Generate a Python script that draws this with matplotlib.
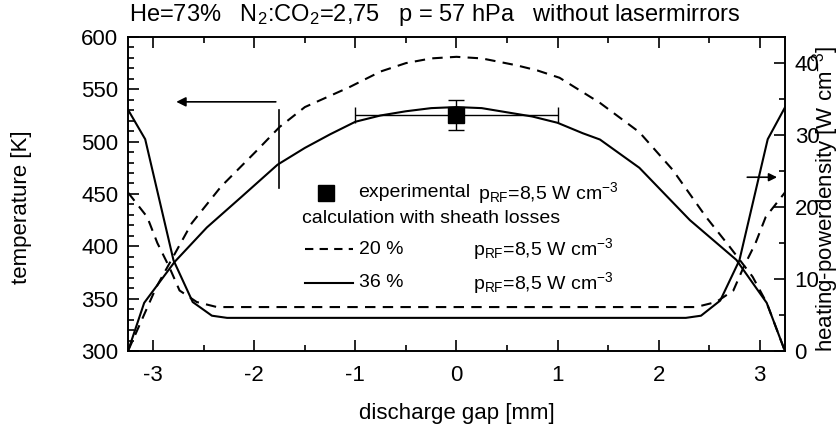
#!/usr/bin/env python3
# temperature and heating power density across the discharge gap

import matplotlib
matplotlib.use('AGG')
import matplotlib.pyplot as plt
from matplotlib.ticker import MultipleLocator

plt.rcParams['font.family'] = ['Liberation Sans', 'DejaVu Sans']
plt.rcParams['mathtext.fontset'] = 'custom'
plt.rcParams['mathtext.rm'] = 'Liberation Sans'
plt.rcParams['mathtext.it'] = 'Liberation Sans:italic'
plt.rcParams['axes.unicode_minus'] = False

# temperature profiles [K]
x_t36 = [-3.25, -3.09, -2.79, -2.47, -2.13, -1.77, -1.5, -1.25, -1.0, -0.75, -0.5,
         -0.25, 0.0, 0.25, 0.5, 0.75, 1.0, 1.25, 1.42, 1.81, 2.31, 2.77, 3.07, 3.25]
t36 = [300, 346, 385, 418, 447, 478, 494, 507, 519, 525, 529,
       532, 533, 532, 528, 524, 518, 508, 502, 475, 425, 387, 346, 300]

x_t20 = [-3.25, -2.97, -2.62, -2.33, -1.97, -1.75, -1.5, -1.06, -0.75, -0.5, -0.25,
         0.0, 0.25, 0.59, 0.8, 1.02, 1.42, 1.81, 2.14, 2.47, 2.70, 2.93, 3.07, 3.25]
t20 = [300, 361, 422, 457, 492, 514, 533, 552, 567, 575, 579.5,
       581, 579.5, 573, 568, 561, 537, 509, 473, 428, 400, 371, 346, 300]

# heating power density [W cm^-3]
x_p36 = [-3.25, -3.08, -2.8, -2.61, -2.42, -2.27, 2.27, 2.42, 2.61, 2.8, 3.08, 3.25]
p36 = [33.5, 29.4, 12.6, 6.8, 4.9, 4.6, 4.6, 4.9, 7.0, 12.6, 29.4, 33.8]

x_p20 = [-3.25, -3.06, -2.96, -2.84, -2.74, -2.57, -2.37,
         2.37, 2.57, 2.74, 2.84, 2.96, 3.06, 3.25]
p20 = [22.0, 18.6, 15.0, 11.6, 8.4, 6.8, 6.1,
       6.1, 6.8, 8.4, 11.6, 15.0, 18.6, 22.0]

# measurement
x_exp = 0.0
t_exp = 525
t_err = [[14], [15]]
x_err = 1.0

DASH = (5, 3.5)
LW = 1.5

fig = plt.figure(figsize=(8.4, 4.32), dpi=100)
ax = fig.add_axes([0.1524, 0.1875, 0.782, 0.727])
ax2 = ax.twinx()

ax.plot(x_t20, t20, color='black', lw=LW, dashes=DASH)
ax.plot(x_t36, t36, color='black', lw=LW)
ax2.plot(x_p20, p20, color='black', lw=LW, dashes=DASH)
ax2.plot(x_p36, p36, color='black', lw=LW)

ax.errorbar([x_exp], [t_exp], xerr=x_err, yerr=t_err, fmt='s', color='black',
            ms=11, elinewidth=1.0, capsize=6, capthick=1.0)

# arrows pointing to the axes
ax.annotate('', xy=(-2.8, 538), xytext=(-1.76, 538),
            arrowprops=dict(arrowstyle='-|>', color='black', lw=1.2,
                            mutation_scale=14))
ax.plot([-1.76, -1.76], [456, 530], color='black', lw=1.2)
ax.annotate('', xy=(3.2, 466), xytext=(2.85, 466),
            arrowprops=dict(arrowstyle='-|>', color='black', lw=1.2,
                            mutation_scale=12))

# legend drawn by hand
fs = 14
ax.plot([-1.29], [451], 's', color='black', ms=11)
ax.text(-0.97, 451, 'experimental', fontsize=fs, va='center')
ax.text(0.21, 451, r'p$_{\mathrm{RF}}$=8,5 W cm$^{-3}$', fontsize=fs, va='center')
ax.text(-1.53, 427, 'calculation with sheath losses', fontsize=fs, va='center')
ax.plot([-1.5, -1.02], [397, 397], color='black', lw=LW, dashes=(4, 3))
ax.text(-0.96, 397, '20 %', fontsize=fs, va='center')
ax.text(0.16, 397, r'p$_{\mathrm{RF}}$=8,5 W cm$^{-3}$', fontsize=fs, va='center')
ax.plot([-1.5, -1.02], [365, 365], color='black', lw=LW)
ax.text(-0.96, 365, '36 %', fontsize=fs, va='center')
ax.text(0.16, 365, r'p$_{\mathrm{RF}}$=8,5 W cm$^{-3}$', fontsize=fs, va='center')

ax.set_xlim(-3.25, 3.25)
ax.set_ylim(300, 600)
ax2.set_ylim(0, 43.6)

ax.xaxis.set_major_locator(MultipleLocator(1))
ax.xaxis.set_minor_locator(MultipleLocator(0.5))
ax.yaxis.set_major_locator(MultipleLocator(50))
ax.yaxis.set_minor_locator(MultipleLocator(10))
ax2.yaxis.set_major_locator(MultipleLocator(10))
ax2.yaxis.set_minor_locator(MultipleLocator(5))

ax.tick_params(which='both', direction='in', top=True, right=False,
               labelsize=16, width=1.2)
ax.tick_params(axis='x', pad=10)
ax.tick_params(axis='y', pad=7)
ax.tick_params(which='major', length=8)
ax.tick_params(which='minor', length=4)
ax2.tick_params(which='both', direction='in', labelsize=16, width=1.2, pad=7)
ax2.tick_params(which='major', length=8)
ax2.tick_params(which='minor', length=4)

for a in (ax, ax2):
    for s in a.spines.values():
        s.set_linewidth(1.2)

ax.set_xlabel('discharge gap [mm]', fontsize=16)
ax.set_ylabel('temperature [K]', fontsize=16)
ax.xaxis.set_label_coords(0.50, -0.165)
ax.yaxis.set_label_coords(-0.146, 0.459)
fig.text(0.983, 0.54, r'heating-powerdensity [W cm$^{-3}$]', fontsize=16,
         rotation=90, ha='center', va='center')

fig.text(0.154, 0.965, r'He=73%   N$_2$:CO$_2$=2,75   p = 57 hPa   without lasermirrors',
         fontsize=17, ha='left', va='center')

fig.savefig('out.png', dpi=100)
